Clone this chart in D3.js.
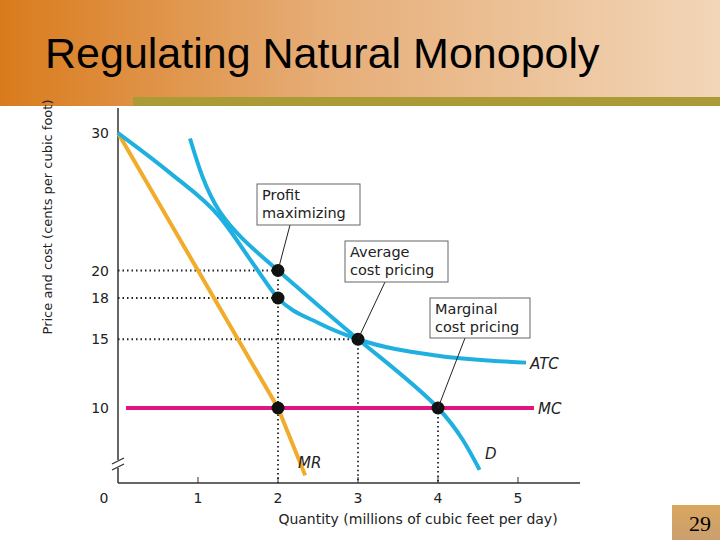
<!DOCTYPE html><html><head><meta charset="utf-8"><script src="https://cdn.jsdelivr.net/npm/d3@7"></script>
<style>body{margin:0}svg{display:block}</style></head><body><svg id="c" width="720" height="540"></svg>
<script>
const demand=[[0.9,29.6],[1.27,24.3],[2,20],[3,15],[4,10],[4.52,5.5]];
const atc=[[0,30],[0.65,27.1],[1.27,23.9],[1.7,20.4],[2,18],[2.5,16.2],[3,15],[4,13.8],[5.1,13.3]];
const mr=[[0,30],[2,10],[2.34,5.1]];
const mc=[[0.1,10],[5.2,10]];
const yTicks=[30,20,18,15,10];
const xTicks=[1,2,3,4,5];
const dots=[[2,20],[2,18],[3,15],[2,10],[4,10]];
const hGuides=[[2,20],[2,18],[3,15]];
const vGuides=[[2,20],[3,15],[4,10]];
const svg=d3.select("#c");
const defs=svg.append("defs");
const g1=defs.append("linearGradient").attr("id","ban");
g1.append("stop").attr("offset","0").attr("stop-color","#d97b1c");
g1.append("stop").attr("offset","0.45").attr("stop-color","#e6ad77");
g1.append("stop").attr("offset","1").attr("stop-color","#f2d6b8");
svg.append("rect").attr("width",720).attr("height",540).attr("fill","#fff");
svg.append("rect").attr("width",720).attr("height",106).attr("fill","url(#ban)");
svg.append("rect").attr("x",133).attr("y",97).attr("width",587).attr("height",9).attr("fill","#aa9b36");
svg.append("text").attr("x",45).attr("y",68).text("Regulating Natural Monopoly").attr("font-family","Liberation Sans, Arial").attr("font-size",43).attr("fill","#000");
const g2=defs.append("linearGradient").attr("id","pg").attr("x1",0).attr("x2",0).attr("y1",0).attr("y2",1);
g2.append("stop").attr("offset","0").attr("stop-color","#d9a65c");g2.append("stop").attr("offset","1").attr("stop-color","#caa070");
svg.append("rect").attr("x",672).attr("y",505).attr("width",48).attr("height",35).attr("fill","url(#pg)");
svg.append("text").attr("x",700).attr("y",531).attr("text-anchor","middle").text("29").attr("font-family","Liberation Serif").attr("font-size",22);
const x=d3.scaleLinear().domain([0,5.75]).range([118,578]);
const y=d3.scaleLinear().domain([10,30]).range([408,133]);
const y0=483;
const font="DejaVu Sans";
svg.append("line").attr("x1",118).attr("x2",118).attr("y1",108).attr("y2",y0).attr("stroke","#333").attr("stroke-width",1.5);
svg.append("line").attr("x1",118).attr("x2",580).attr("y1",y0).attr("y2",y0).attr("stroke","#333").attr("stroke-width",1.5);
svg.append("rect").attr("x",112).attr("y",460).attr("width",12).attr("height",8).attr("fill","#fff");
[[458],[464]].forEach(([t])=>svg.append("line").attr("x1",112).attr("x2",124).attr("y1",t+6).attr("y2",t).attr("stroke","#333").attr("stroke-width",1.3));
xTicks.forEach(t=>{svg.append("line").attr("x1",x(t)).attr("x2",x(t)).attr("y1",y0).attr("y2",y0-6).attr("stroke","#333");
 svg.append("text").attr("x",x(t)).attr("y",503).attr("text-anchor","middle").text(t).attr("font-family",font).attr("font-size",14).attr("fill","#222");});
svg.append("text").attr("x",104).attr("y",503).attr("text-anchor","middle").text("0").attr("font-family",font).attr("font-size",14).attr("fill","#222");
yTicks.forEach(t=>svg.append("text").attr("x",109).attr("y",y(t)+5).attr("text-anchor","end").text(t).attr("font-family",font).attr("font-size",14).attr("fill","#222"));
svg.append("text").attr("transform","translate(52,217) rotate(-90)").attr("text-anchor","middle").text("Price and cost (cents per cubic foot)").attr("font-family",font).attr("font-size",13).attr("fill","#222");
svg.append("text").attr("x",418).attr("y",524).attr("text-anchor","middle").text("Quantity (millions of cubic feet per day)").attr("font-family",font).attr("font-size",14).attr("fill","#222");
const dot={stroke:"#222","stroke-width":1.8,"stroke-dasharray":"1.5,3"};
function ln(x1,y1,x2,y2,a){const l=svg.append("line").attr("x1",x1).attr("y1",y1).attr("x2",x2).attr("y2",y2);for(const k in a)l.attr(k,a[k]);return l;}
hGuides.forEach(([q,p])=>ln(118,y(p),x(q),y(p),dot));
vGuides.forEach(([q,p])=>ln(x(q),y(p),x(q),y0,dot));
const line=d3.line().x(d=>x(d[0])).y(d=>y(d[1])).curve(d3.curveNatural);
svg.append("path").attr("d",line(mc)).attr("stroke","#e0157f").attr("stroke-width",4).attr("fill","none");
svg.append("path").attr("d",d3.line().x(d=>x(d[0])).y(d=>y(d[1]))(mr)).attr("stroke","#f0ac2a").attr("stroke-width",4).attr("fill","none");
svg.append("path").attr("d",d3.line().x(d=>x(d[0])).y(d=>y(d[1])).curve(d3.curveMonotoneX)(atc)).attr("stroke","#1fb0e0").attr("stroke-width",4).attr("fill","none");
svg.append("path").attr("d",line(demand)).attr("stroke","#1fb0e0").attr("stroke-width",4).attr("fill","none");
dots.forEach(([q,p])=>svg.append("circle").attr("cx",x(q)).attr("cy",y(p)).attr("r",6.5).attr("fill","#111"));
const lab=(t,xx,yy)=>svg.append("text").attr("x",xx).attr("y",yy).text(t).attr("font-family",font).attr("font-size",15).attr("font-style","italic").attr("fill","#222");
lab("ATC",530,369);lab("MC",538,414);lab("D",485,459);lab("MR",298,468);
function box(lines,bx,by,w,h,lx1,ly1,lx2,ly2){
 ln(lx1,ly1,lx2,ly2,{stroke:"#222","stroke-width":1});
 svg.append("rect").attr("x",bx).attr("y",by).attr("width",w).attr("height",h).attr("fill","#fff").attr("stroke","#666");
 lines.forEach((t,i)=>svg.append("text").attr("x",bx+5).attr("y",by+16+i*18).text(t).attr("font-family",font).attr("font-size",14.5).attr("fill","#222"));}
box(["Profit","maximizing"],257,184,103,41,290,225,x(2),y(20));
box(["Average","cost pricing"],345,241,103,41,385,282,x(3),y(15));
box(["Marginal","cost pricing"],430,298,100,40,465,338,x(4),y(10));
</script></body></html>
